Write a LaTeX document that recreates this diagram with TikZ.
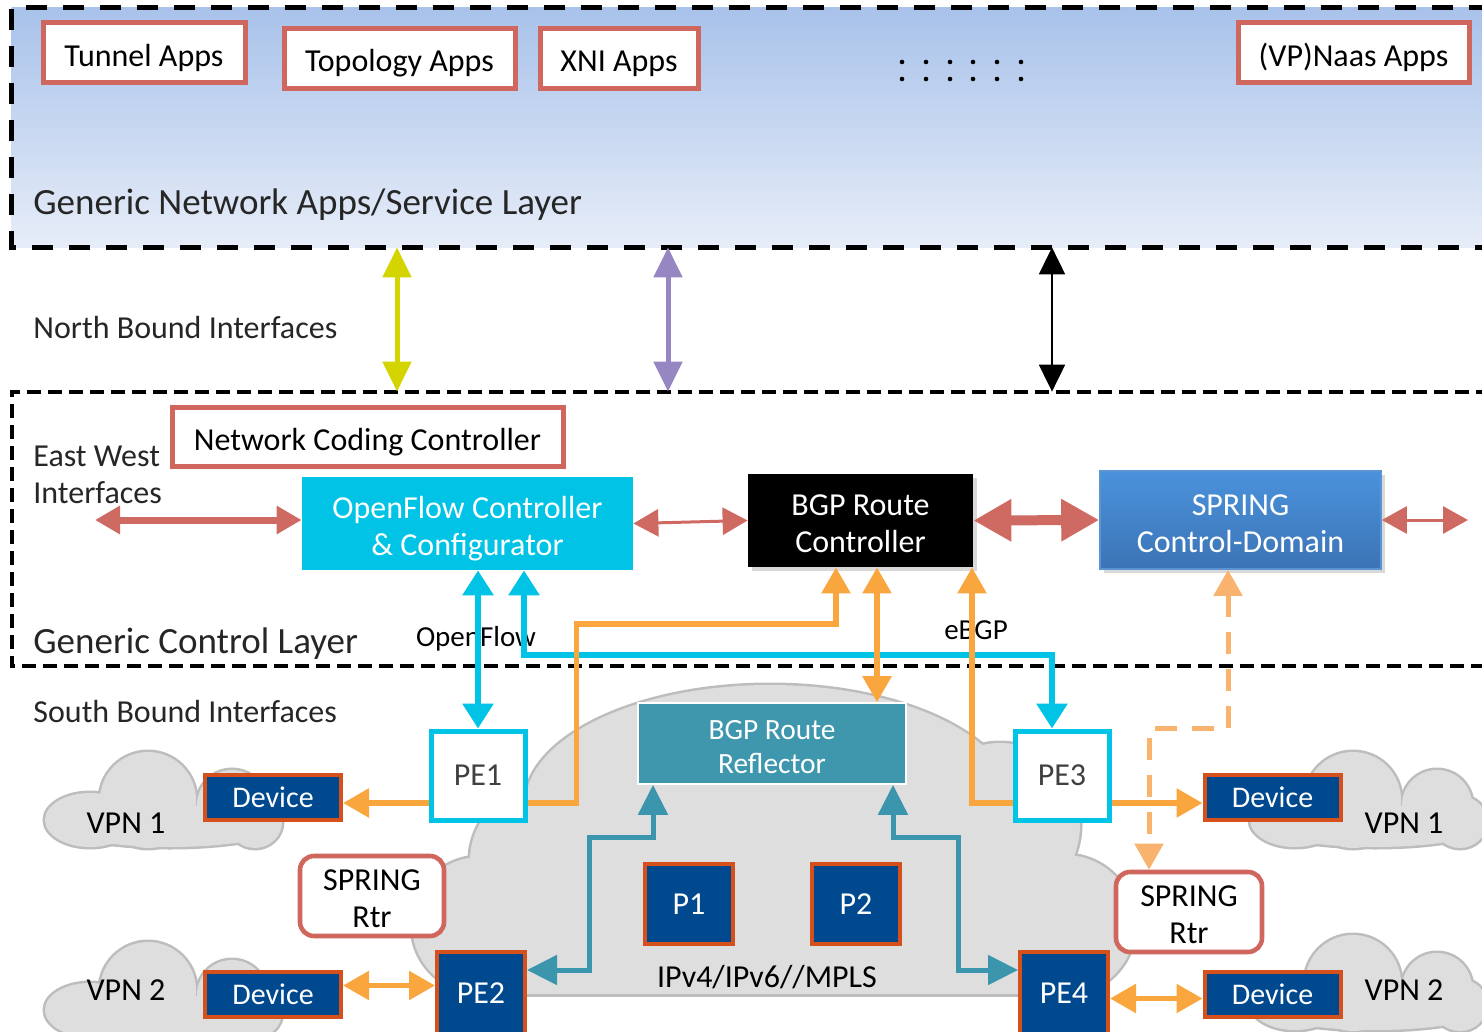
\documentclass[tikz,border=0pt]{standalone}
\usepackage{fontspec}
\setmainfont{Carlito}
\usepackage{xcolor}
\usepackage{tikz}
\usetikzlibrary{arrows.meta}
\usetikzlibrary{calc}
\usetikzlibrary{positioning}
\usetikzlibrary{shadows}

\definecolor{apptop}{HTML}{A8C2EA}
\definecolor{appbot}{HTML}{E7EDF8}
\definecolor{appred}{HTML}{D0675F}
\definecolor{ofcyan}{HTML}{00C3E6}
\definecolor{rrteal}{HTML}{3F97AE}
\definecolor{tealline}{HTML}{3B95AC}
\definecolor{orline}{HTML}{FAA63F}
\definecolor{ordash}{HTML}{F8B36E}
\definecolor{devblue}{HTML}{00498E}
\definecolor{devedge}{HTML}{D5501A}
\definecolor{ewred}{HTML}{CF6A62}
\definecolor{nbyellow}{HTML}{D4D400}
\definecolor{nbpurple}{HTML}{9686C1}
\definecolor{cloudgray}{HTML}{DEDEDE}
\definecolor{cloudline}{HTML}{BDBDBD}
\definecolor{sprtop}{HTML}{4A92DB}
\definecolor{sprbot}{HTML}{3C74B6}
\definecolor{spredge}{HTML}{5B94D3}
\definecolor{labelgray}{HTML}{262626}
\definecolor{petext}{HTML}{404040}

\newcommand{\tstrut}[1]{\rule{0pt}{#1}}

\tikzset{
	cytip/.tip={Triangle[length=12.5pt,width=15pt]},
	ortip/.tip={Triangle[length=13pt,width=14pt]},
	tltip/.tip={Triangle[length=15pt,width=14.5pt]},
	nbtip/.tip={Triangle[length=15pt,width=14pt]},
	bktip/.tip={Triangle[length=13.5pt,width=13pt]},
	ewtip/.tip={Triangle[length=12.5pt,width=13.5pt]},
	fattip/.tip={Triangle[length=19pt,width=20pt]},
	capstrut/.style={execute at begin node={\rule{0pt}{#1}}},
	boxfont/.style={font=\fontsize{16}{18.5}\selectfont},
	layer/.style={inner sep=0pt,minimum width=739pt},
	appdash/.style={line width=2.5pt,dash pattern=on 10.5pt off 8pt},
	ctrldash/.style={line width=2pt,dash pattern=on 7pt off 3.5pt},
	layerlabel/.style={anchor=base west,inner sep=0pt,text=labelgray,font=\fontsize{18.5}{22}\selectfont},
	sidelabel/.style={inner sep=0pt,text=labelgray,font=\fontsize{16}{18.5}\selectfont},
	smalllabel/.style={inner sep=0pt,font=\fontsize{14.5}{17}\selectfont},
	appbox/.style={draw=appred,line width=2.5pt,fill=white,inner sep=0pt,minimum height=30pt,boxfont,capstrut=16pt},
	ctrlbox/.style={inner sep=0pt,text=white,align=center,boxfont},
	pebox/.style={draw=ofcyan,line width=2.5pt,fill=white,text=petext,inner sep=0pt,minimum width=47pt,minimum height=44.5pt,boxfont},
	corebox/.style={draw=devedge,line width=2pt,fill=devblue,text=white,inner sep=0pt,minimum width=44pt,boxfont},
	devbox/.style={draw=devedge,line width=2pt,fill=devblue,text=white,inner sep=0pt,minimum width=68pt,minimum height=22.5pt,font=\fontsize{15}{18}\selectfont},
	rtrbox/.style={draw=appred,line width=2.3pt,fill=white,rounded corners=7pt,inner sep=0pt,minimum height=40pt,align=center,boxfont},
	cloudedge/.style={draw=cloudline,line width=2.5pt},
	cloudfill/.style={fill=cloudgray},
	cyanarr/.style={draw=ofcyan,line width=3pt},
	orarr/.style={draw=orline,line width=2.8pt},
	tealarr/.style={draw=tealline,line width=2.5pt},
	sprdash/.style={draw=ordash,line width=2.5pt,dash pattern=on 11pt off 7.5pt},
	ewarr/.style={draw=ewred},
}

\newcommand{\vpncloud}[1]{%
	\path[#1] (148,800) ellipse [x radius=48,y radius=48];
	\path[#1] (90,820) ellipse [x radius=45,y radius=27];
	\path[#1] (170,826) ellipse [x radius=110,y radius=21];
	\path[#1] (232,805) ellipse [x radius=35,y radius=35];
	\path[#1] (255,822) ellipse [x radius=27,y radius=26];
}
\newcommand{\corecloud}[1]{%
	\path[#1] (770,805) ellipse [x radius=245,y radius=120];
	\path[#1] (1000,825) ellipse [x radius=80,y radius=82];
	\path[#1] (1065,925) ellipse [x radius=70,y radius=70];
	\path[#1] (560,860) ellipse [x radius=90,y radius=80];
	\path[#1] (480,925) ellipse [x radius=68,y radius=68];
	\path[#1] (500,860) rectangle (1080,994);
}

\begin{document}
\begin{tikzpicture}[x=0.5pt,y=-0.5pt]
	\useasboundingbox (0,0) rectangle (1482,1032);
	
	% the two layers
	\node[layer,minimum height=119.5pt] (applayer) at (751,127.5) {};
	\node[layer,minimum height=137pt] (ctrllayer) at (751,529) {};
	\shade[top color=apptop,bottom color=appbot] (applayer.north west) rectangle (applayer.south east);
	\draw[appdash] (applayer.north east) -- (applayer.north west) -- (applayer.south west) -- (applayer.south east);
	\draw[ctrldash] (ctrllayer.north east) -- (ctrllayer.north west) -- (ctrllayer.south west) -- (ctrllayer.south east);
	
	% clouds
	\corecloud{cloudedge}
	\corecloud{cloudfill}
	\vpncloud{cloudedge}
	\vpncloud{cloudfill}
	\begin{scope}[shift={(0,190)}]
		\vpncloud{cloudedge}
		\vpncloud{cloudfill}
	\end{scope}
	\begin{scope}[shift={(1205,0)}]
		\vpncloud{cloudedge}
		\vpncloud{cloudfill}
	\end{scope}
	\begin{scope}[shift={(1205,183)}]
		\vpncloud{cloudedge}
		\vpncloud{cloudfill}
	\end{scope}
	
	% apps
	\node[appbox,minimum width=101pt] (tunnel) at (144,53) {Tunnel Apps};
	\node[appbox,minimum width=115.5pt] (topo) at (399.5,58.5) {Topology Apps};
	\node[appbox,minimum width=79pt] (xni) at (619,58.5) {XNI Apps};
	\node[appbox,minimum width=115.5pt] (naas) at (1353.5,53) {(VP)Naas Apps};
	\foreach \x in {902,926,950,973,997,1021} {
		\fill (\x,62) circle [radius=2.3];
		\fill (\x,79) circle [radius=2.3];
	}
	
	\node[layerlabel] (applbl) at (33,215) {Generic Network Apps/Service Layer};
	\node[sidelabel,anchor=base west] (nbilbl) at (33,338) {North Bound Interfaces};
	\node[sidelabel,anchor=west,align=left] (ewlbl) at (33,475) {East West\\Interfaces};
	\node[layerlabel] (ctrllbl) at (33,653) {Generic Control Layer};
	\node[sidelabel,anchor=base west] (sbilbl) at (33,722) {South Bound Interfaces};
	
	% controllers
	\node[appbox,minimum width=195.5pt,minimum height=29.5pt,capstrut=17pt] (ncc) at (367.5,436.5) {Network Coding Controller};
	\node[ctrlbox,fill=ofcyan,minimum width=165.5pt,minimum height=46.5pt] (ofc) at (467.5,523.5) {\tstrut{16pt}OpenFlow Controller\\\& Configurator};
	\node[ctrlbox,fill=black,minimum width=112.5pt,minimum height=46.5pt,drop shadow={opacity=0.3,shadow xshift=2pt,shadow yshift=-2pt}] (bgprc) at (860.5,520.5) {\tstrut{13.5pt}BGP Route\\Controller};
	\node[ctrlbox,draw=spredge,line width=0.8pt,top color=sprtop,bottom color=sprbot,minimum width=140.5pt,minimum height=49pt,drop shadow={opacity=0.3,shadow xshift=2pt,shadow yshift=-2pt}] (sprcd) at (1240.5,520) {\tstrut{14.5pt}SPRING\\Control-Domain};
	
	% network
	\node[ctrlbox,draw=white,line width=0.8pt,fill=rrteal,minimum width=134pt,minimum height=40.5pt,font=\fontsize{14.7}{17}\selectfont] (rr) at (772,743.5) {\tstrut{13.5pt}BGP Route\\Reflector};
	\node[pebox] (pe1) at (478,775.5) {PE1};
	\node[pebox] (pe3) at (1062,775.5) {PE3};
	\node[corebox,minimum height=41pt] (pe2) at (481,993) {PE2};
	\node[corebox,minimum height=41pt] (pe4) at (1064,993) {PE4};
	\node[corebox,minimum height=40pt] (p1) at (689,904) {P1};
	\node[corebox,minimum height=40pt] (p2) at (856,904) {P2};
	\node[devbox] (dev1) at (273,797.5) {Device};
	\node[devbox] (dev2) at (273,994.5) {Device};
	\node[devbox] (dev3) at (1272.5,797.5) {Device};
	\node[devbox] (dev4) at (1272.5,994.5) {Device};
	\node[rtrbox,minimum width=72pt] (sprl) at (372,896) {\tstrut{13.5pt}SPRING\\Rtr};
	\node[rtrbox,minimum width=73pt] (sprr) at (1189,912) {\tstrut{13.5pt}SPRING\\Rtr};
	
	\node[sidelabel,text=black] (vpn1l) at (126,823) {VPN 1};
	\node[sidelabel,text=black] (vpn2l) at (126,990) {VPN 2};
	\node[sidelabel,text=black] (vpn1r) at (1404,823) {VPN 1};
	\node[sidelabel,text=black] (vpn2r) at (1404,990) {VPN 2};
	\node[sidelabel,text=black] (mpls) at (767,977) {IPv4/IPv6//MPLS};
	\node[smalllabel] (oflbl) at (476,639) {OpenFlow};
	\node[smalllabel] (ebgplbl) at (976,630) {eBGP};
	
	% north bound
	\coordinate (nbY) at (397,320);
	\coordinate (nbP) at (668,320);
	\coordinate (nbK) at (1052,320);
	\draw[draw=nbyellow,line width=2.5pt,nbtip-nbtip] (nbY |- applayer.south) -- (nbY |- ctrllayer.north);
	\draw[draw=nbpurple,line width=2.5pt,nbtip-nbtip] (nbP |- applayer.south) -- (nbP |- ctrllayer.north);
	\draw[line width=1pt,bktip-bktip] (nbK |- applayer.south) -- (nbK |- ctrllayer.north);
	
	% east west
	\coordinate (ewL) at (95,520);
	\coordinate (ewR) at (1468,520);
	\draw[ewarr,line width=3.5pt,ewtip-ewtip] (ewL) -- (ewL -| ofc.west);
	\draw[ewarr,line width=1.5pt,ewtip-ewtip] (ofc.east) -- (bgprc.west);
	\draw[ewarr,line width=5pt,fattip-fattip] (bgprc.east) -- (sprcd.west);
	\draw[ewarr,line width=1.5pt,ewtip-ewtip] (sprcd.east) -- (ewR);
	
	% south bound
	\draw[cyanarr,cytip-cytip] (pe1.north) -- (pe1.north |- ofc.south);
	\draw[cyanarr,cytip-cytip] ([xshift=28.25pt]ofc.south) -- ++(0,85) -| ([xshift=-5pt]pe3.north);
	\draw[orarr,-ortip] ([yshift=-13.75pt]pe1.east) -- ++(49,0) -- ++(0,-179) -| ([xshift=-12.25pt]bgprc.south);
	\draw[orarr,ortip-ortip] ([xshift=8.25pt]bgprc.south) -- ([xshift=8.25pt]bgprc.south |- rr.north);
	\draw[orarr,-ortip] ([yshift=-13.75pt]pe3.west) -| ([xshift=55.75pt]bgprc.south);
	\draw[orarr,-ortip] ([yshift=-13.75pt]pe1.west) -- ([yshift=-13.75pt]pe1.west -| dev1.east);
	\draw[orarr,-ortip] ([yshift=-13.75pt]pe3.east) -- ([yshift=-13.75pt]pe3.east -| dev3.west);
	\draw[orarr,ortip-ortip] ([yshift=4.5pt]dev2.east) -- ([yshift=4.5pt]dev2.east -| pe2.west);
	\draw[orarr,ortip-ortip] ([yshift=-2.75pt]pe4.east) -- ([yshift=-2.75pt]pe4.east -| dev4.west);
	\draw[sprdash,ortip-ortip] ([xshift=-6.25pt]sprcd.south) -- ++(0,159) -| ([xshift=-20pt]sprr.north);
	\draw[tealarr,tltip-tltip] ([xshift=-59.5pt]rr.south) -- ++(0,53) -- ++(-64,0) |- ([yshift=11.5pt]pe2.east);
	\draw[tealarr,tltip-tltip] ([xshift=60.5pt]rr.south) -- ++(0,53) -- ++(65,0) |- ([yshift=11.5pt]pe4.west);
	
\end{tikzpicture}
\end{document}
